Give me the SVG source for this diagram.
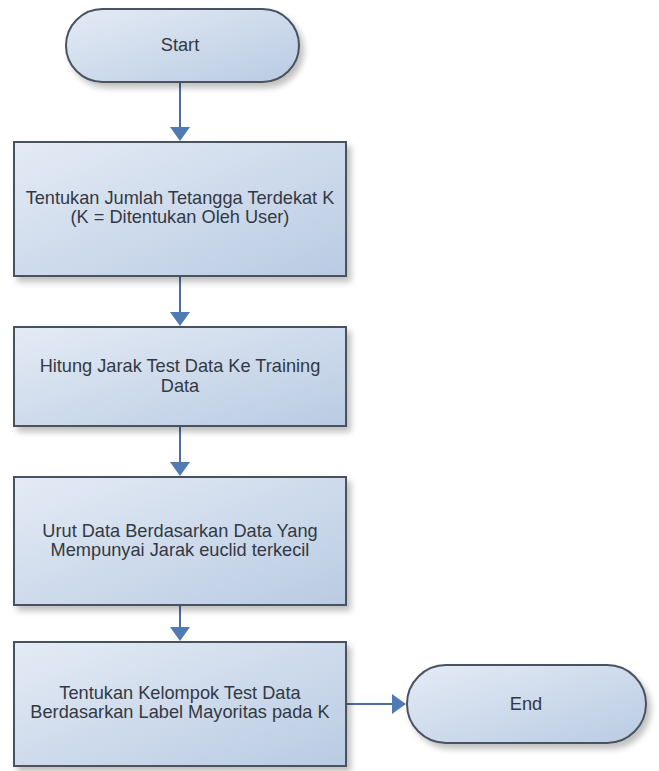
<svg xmlns="http://www.w3.org/2000/svg" width="659" height="771" viewBox="0 0 659 771">
<style>
.node{fill:url(#g);stroke:#4a5260;stroke-width:2;filter:url(#sh)}
.t{font-family:"Liberation Sans",Arial,sans-serif;font-size:18.2px;fill:#333943;text-anchor:middle}
.c{stroke:#4a6f9c;stroke-width:2;fill:none}
.h{fill:#4f7ab3}
</style>
<defs>
<linearGradient id="g" x1="0" y1="0" x2="1" y2="1">
<stop offset="0" stop-color="#e4ebf5"/>
<stop offset="1" stop-color="#b9cbe3"/>
</linearGradient>
<filter id="sh" x="-10%" y="-10%" width="130%" height="130%">
<feGaussianBlur in="SourceAlpha" stdDeviation="3"/>
<feOffset dx="4" dy="5" result="b"/>
<feComponentTransfer><feFuncA type="linear" slope="0.25"/></feComponentTransfer>
<feMerge><feMergeNode/><feMergeNode in="SourceGraphic"/></feMerge>
</filter>
</defs>
<rect width="659" height="771" fill="#ffffff"/>
<g id="connectors">
<line class="c" x1="180" y1="82" x2="180" y2="130"/>
<path class="h" d="M170,127 L190,127 L180,141 z"/>
<line class="c" x1="180" y1="276" x2="180" y2="314"/>
<path class="h" d="M170,312 L190,312 L180,326 z"/>
<line class="c" x1="180" y1="426" x2="180" y2="464"/>
<path class="h" d="M170,462 L190,462 L180,476 z"/>
<line class="c" x1="180" y1="605" x2="180" y2="630"/>
<path class="h" d="M170,627 L190,627 L180,641 z"/>
<line class="c" x1="346" y1="704" x2="394" y2="704"/>
<path class="h" d="M392,694 L392,714 L406,704 z"/>
</g>
<g id="start">
<rect class="node" x="66" y="9" width="233" height="73" rx="36.5"/>
<text class="t" x="180" y="51">Start</text>
</g>
<g id="step1">
<rect class="node" x="14" y="142" width="332" height="134"/>
<text class="t" x="180" y="204">Tentukan Jumlah Tetangga Terdekat K</text>
<text class="t" x="180" y="223">(K = Ditentukan Oleh User)</text>
</g>
<g id="step2">
<rect class="node" x="14" y="327" width="332" height="99"/>
<text class="t" x="180" y="372">Hitung Jarak Test Data Ke Training</text>
<text class="t" x="180" y="392">Data</text>
</g>
<g id="step3">
<rect class="node" x="14" y="477" width="332" height="128"/>
<text class="t" x="180" y="537">Urut Data Berdasarkan Data Yang</text>
<text class="t" x="180" y="556">Mempunyai Jarak euclid terkecil</text>
</g>
<g id="step4">
<rect class="node" x="14" y="642" width="332" height="124"/>
<text class="t" x="180" y="699">Tentukan Kelompok Test Data</text>
<text class="t" x="180" y="718">Berdasarkan Label Mayoritas pada K</text>
</g>
<g id="end">
<rect class="node" x="407" y="665" width="239" height="78" rx="39"/>
<text class="t" x="526" y="710">End</text>
</g>
</svg>
